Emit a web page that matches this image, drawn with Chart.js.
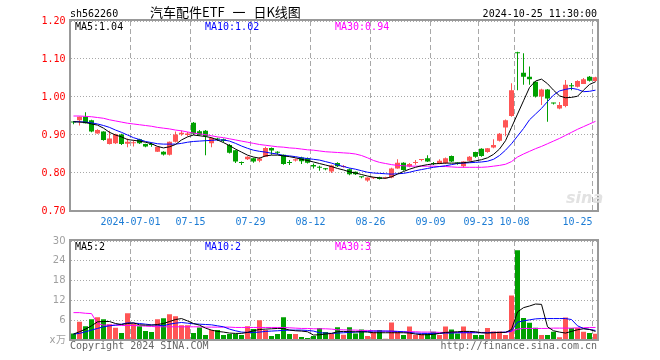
<!DOCTYPE html>
<html lang="zh-CN">
<head>
<meta charset="UTF-8">
<title>汽车配件ETF 一 日K线图</title>
<script src="https://cdn.jsdelivr.net/npm/chart.js@4"></script>
<style>
  * { margin: 0; padding: 0; box-sizing: border-box; }
  body {
    width: 660px; height: 360px; position: relative; overflow: hidden; background: #fff;
    font-family: 'DejaVu Sans Mono', monospace; font-size: 10px; line-height: 12px; color: #000;
  }
  canvas { position: absolute; left: 0; }
  #price { top: 0; }
  #volume { top: 230px; }
  .txt { position: absolute; white-space: pre; z-index: 2; }
  .title { font-family: 'Noto Sans CJK SC', sans-serif; font-size: 13px; line-height: 13px; word-spacing: 5px; }
  .foot { color: #666; }
  .logo { font-family: 'DejaVu Sans', sans-serif; font-size: 16px; font-weight: bold; font-style: italic; color: #e2e2e2; line-height: 16px; }
</style>
</head>
<body>
<div class="txt" style="left:70px; top:7.5px;">sh562260</div>
<div class="txt title" style="left:150px; top:5px;">汽车配件ETF 一 日K线图</div>
<div class="txt" style="right:63px; top:7.5px;">2024-10-25 11:30:00</div>

<div class="txt" style="left:75px; top:20.5px;">MA5:1.04</div>
<div class="txt" style="left:205px; top:20.5px; color:#0000ff;">MA10:1.02</div>
<div class="txt" style="left:335px; top:20.5px; color:#ff00ff;">MA30:0.94</div>

<div class="txt" style="left:75px; top:240.5px;">MA5:2</div>
<div class="txt" style="left:205px; top:240.5px; color:#0000ff;">MA10:2</div>
<div class="txt" style="left:335px; top:240.5px; color:#ff00ff;">MA30:3</div>

<div class="txt logo" style="left:566px; top:190px;">sina</div>

<div class="txt foot" style="left:70px; top:340px;">Copyright 2024 SINA.COM</div>
<div class="txt foot" style="right:63px; top:340px;">http://finance.sina.com.cn</div>

<canvas id="price" width="660" height="230"></canvas>
<canvas id="volume" width="660" height="130"></canvas>

<script>
// trading days shown in the chart
const dates = [
  '2024-06-17','2024-06-18','2024-06-19','2024-06-20','2024-06-21','2024-06-24','2024-06-25','2024-06-26','2024-06-27','2024-06-28',
  '2024-07-01','2024-07-02','2024-07-03','2024-07-04','2024-07-05','2024-07-08','2024-07-09','2024-07-10','2024-07-11','2024-07-12',
  '2024-07-15','2024-07-16','2024-07-17','2024-07-18','2024-07-19','2024-07-22','2024-07-23','2024-07-24','2024-07-25','2024-07-26',
  '2024-07-29','2024-07-30','2024-07-31','2024-08-01','2024-08-02','2024-08-05','2024-08-06','2024-08-07','2024-08-08','2024-08-09',
  '2024-08-12','2024-08-13','2024-08-14','2024-08-15','2024-08-16','2024-08-19','2024-08-20','2024-08-21','2024-08-22','2024-08-23',
  '2024-08-26','2024-08-27','2024-08-28','2024-08-29','2024-08-30','2024-09-02','2024-09-03','2024-09-04','2024-09-05','2024-09-06',
  '2024-09-09','2024-09-10','2024-09-11','2024-09-12','2024-09-13','2024-09-18','2024-09-19','2024-09-20','2024-09-23','2024-09-24',
  '2024-09-25','2024-09-26','2024-09-27','2024-09-30','2024-10-08','2024-10-09','2024-10-10','2024-10-11','2024-10-14','2024-10-15',
  '2024-10-16','2024-10-17','2024-10-18','2024-10-21','2024-10-22','2024-10-23','2024-10-24','2024-10-25'
];

// x axis labels
const tickDates = ['2024-07-01','2024-07-15','2024-07-29','2024-08-12','2024-08-26','2024-09-09','2024-09-23','2024-10-08','2024-10-25'];
const tickTexts = ['2024-07-01','07-15','07-29','08-12','08-26','09-09','09-23','10-08','10-25'];

const opens = [
  0.934,0.939,0.948,0.939,0.904,0.909,0.876,0.878,0.901,0.877,
  0.878,0.889,0.876,0.876,0.856,0.856,0.848,0.882,0.902,0.900,
  0.932,0.910,0.911,0.878,0.891,0.889,0.874,0.860,0.828,0.836,
  0.839,0.832,0.843,0.866,0.855,0.848,0.828,0.833,0.841,0.839,
  0.821,0.816,0.812,0.804,0.826,0.816,0.810,0.803,0.790,0.780,
  0.786,0.789,0.786,0.788,0.812,0.827,0.817,0.826,0.834,0.839,
  0.826,0.824,0.826,0.845,0.826,0.818,0.832,0.855,0.864,0.855,
  0.867,0.885,0.920,0.950,1.118,1.064,1.053,1.040,1.001,1.020,
  0.984,0.970,0.976,1.030,1.027,1.034,1.053,1.042
];
const highs = [
  0.937,0.949,0.960,0.940,0.915,0.910,0.911,0.903,0.903,0.891,
  0.886,0.890,0.877,0.880,0.870,0.857,0.883,0.909,0.912,0.908,
  0.934,0.913,0.913,0.894,0.893,0.891,0.876,0.861,0.830,0.844,
  0.840,0.842,0.869,0.867,0.857,0.849,0.834,0.838,0.843,0.841,
  0.825,0.819,0.813,0.822,0.828,0.821,0.812,0.804,0.791,0.789,
  0.789,0.790,0.790,0.814,0.836,0.828,0.826,0.834,0.837,0.847,
  0.829,0.836,0.841,0.846,0.828,0.831,0.845,0.856,0.865,0.866,
  0.889,0.905,0.941,1.036,1.119,1.115,1.080,1.042,1.022,1.021,
  0.985,0.987,1.045,1.037,1.044,1.050,1.055,1.053
];
const lows = [
  0.928,0.925,0.930,0.907,0.903,0.885,0.875,0.876,0.874,0.868,
  0.870,0.876,0.868,0.869,0.855,0.846,0.846,0.880,0.898,0.897,
  0.900,0.898,0.847,0.868,0.884,0.880,0.851,0.826,0.821,0.834,
  0.827,0.828,0.842,0.848,0.849,0.822,0.821,0.830,0.824,0.825,
  0.812,0.806,0.807,0.800,0.816,0.814,0.794,0.795,0.786,0.777,
  0.784,0.783,0.785,0.786,0.811,0.806,0.815,0.822,0.831,0.829,
  0.821,0.823,0.824,0.829,0.822,0.814,0.830,0.840,0.843,0.853,
  0.865,0.883,0.897,0.948,1.018,1.032,1.032,0.999,0.979,0.935,
  0.980,0.968,0.973,1.018,1.025,1.034,1.041,1.040
];
const closes = [
  0.933,0.948,0.931,0.909,0.913,0.887,0.891,0.902,0.876,0.882,
  0.881,0.878,0.870,0.874,0.869,0.849,0.882,0.901,0.906,0.904,
  0.903,0.900,0.897,0.892,0.888,0.884,0.853,0.830,0.826,0.843,
  0.830,0.838,0.866,0.859,0.853,0.824,0.826,0.836,0.831,0.827,
  0.817,0.814,0.810,0.820,0.818,0.818,0.797,0.797,0.789,0.788,
  0.788,0.784,0.788,0.812,0.827,0.808,0.824,0.828,0.836,0.830,
  0.824,0.832,0.839,0.830,0.825,0.830,0.843,0.843,0.845,0.865,
  0.874,0.903,0.939,1.018,1.115,1.053,1.047,1.001,1.020,0.996,
  0.983,0.979,1.032,1.028,1.042,1.047,1.043,1.052
];

// moving averages as drawn on the price panel
const ma5 = [
  0.935,0.934,0.933,0.929,0.926,0.918,0.907,0.900,0.895,0.888,
  0.886,0.884,0.881,0.877,0.870,0.866,0.869,0.875,0.887,0.895,
  0.900,0.898,0.896,0.893,0.887,0.880,0.872,0.863,0.855,0.847,
  0.842,0.839,0.845,0.847,0.847,0.845,0.843,0.840,0.836,0.833,
  0.829,0.825,0.821,0.817,0.812,0.808,0.803,0.800,0.796,0.792,
  0.789,0.787,0.786,0.790,0.797,0.804,0.810,0.815,0.819,0.822,
  0.824,0.825,0.826,0.826,0.826,0.827,0.829,0.832,0.835,0.840,
  0.849,0.863,0.885,0.920,0.955,0.990,1.025,1.042,1.047,1.035,
  1.018,1.003,0.998,0.999,1.002,1.018,1.033,1.040
];
const ma10 = [
  0.935,0.935,0.934,0.932,0.929,0.925,0.920,0.913,0.907,0.900,
  0.893,0.888,0.883,0.880,0.877,0.876,0.876,0.876,0.878,0.881,
  0.883,0.884,0.885,0.886,0.887,0.887,0.884,0.878,0.871,0.865,
  0.860,0.857,0.855,0.852,0.850,0.846,0.845,0.843,0.840,0.838,
  0.836,0.834,0.830,0.826,0.821,0.817,0.813,0.810,0.806,0.802,
  0.800,0.799,0.798,0.797,0.798,0.799,0.802,0.806,0.809,0.812,
  0.815,0.817,0.819,0.822,0.825,0.826,0.827,0.828,0.829,0.831,
  0.836,0.846,0.860,0.877,0.897,0.917,0.940,0.955,0.970,0.988,
  1.005,1.016,1.020,1.023,1.020,1.014,1.015,1.018
];
const ma30 = [
  0.950,0.950,0.949,0.948,0.946,0.944,0.940,0.937,0.934,0.931,
  0.929,0.927,0.925,0.923,0.920,0.918,0.916,0.913,0.911,0.908,
  0.905,0.903,0.901,0.898,0.895,0.893,0.890,0.887,0.884,0.881,
  0.878,0.875,0.873,0.871,0.869,0.868,0.866,0.865,0.863,0.861,
  0.860,0.858,0.856,0.855,0.854,0.853,0.852,0.850,0.846,0.840,
  0.833,0.828,0.825,0.822,0.820,0.819,0.818,0.818,0.818,0.818,
  0.818,0.817,0.817,0.816,0.815,0.815,0.815,0.815,0.815,0.816,
  0.818,0.820,0.823,0.830,0.842,0.850,0.857,0.864,0.870,0.877,
  0.884,0.891,0.899,0.907,0.915,0.922,0.929,0.936
];

// volume, in 10k lots
const volumes = [
  2.0,5.5,4.2,6.3,6.9,6.3,4.8,3.7,2.1,8.1,
  5.0,4.2,2.7,2.4,6.3,6.6,7.8,7.2,4.5,4.5,
  2.1,3.8,1.5,3.0,3.0,1.5,1.8,1.8,1.5,4.2,
  3.3,6.0,3.0,1.2,1.8,6.9,1.8,1.8,0.9,0.6,
  1.2,3.6,2.4,1.8,3.9,1.6,3.9,2.0,3.2,1.2,
  2.5,3.0,0.4,5.3,2.4,1.5,4.1,1.5,1.8,2.0,
  2.5,1.5,4.1,3.2,2.0,4.1,2.5,1.5,1.5,3.6,
  2.6,2.6,1.5,13.5,27.2,6.7,5.2,3.7,1.5,1.5,
  2.5,0.8,6.8,3.6,3.6,2.5,2.1,1.9
];
const vma5 = [
  1.8,2.5,3.3,4.3,5.5,5.6,5.6,5.0,4.7,5.0,
  5.2,4.6,4.5,4.5,4.7,5.0,5.6,6.2,6.5,5.8,
  5.0,4.5,3.6,3.0,2.6,2.4,2.1,2.0,2.0,2.3,
  2.8,3.2,3.3,3.4,3.5,3.5,3.0,2.8,2.7,2.5,
  1.5,1.6,1.8,2.0,2.5,2.6,2.5,2.5,2.5,2.4,
  2.2,2.2,2.2,2.2,2.2,2.2,2.1,1.8,1.6,1.6,
  1.7,2.0,2.3,2.4,2.5,2.6,2.6,2.5,2.2,2.1,
  2.2,2.3,2.3,3.2,8.5,9.8,10.3,10.9,10.8,4.0,
  2.8,2.4,2.1,2.6,3.1,3.4,3.2,2.6
];
const vma10 = [
  1.8,2.0,2.5,3.0,3.5,4.0,4.3,4.5,4.8,5.2,
  5.1,5.0,4.8,4.6,4.5,4.3,4.8,5.1,5.3,5.1,
  4.9,4.8,4.7,4.6,4.3,4.0,3.3,2.8,2.4,2.3,
  2.3,2.4,2.6,2.7,2.8,2.9,3.0,3.0,3.0,2.9,
  2.7,2.2,2.1,2.0,2.1,2.2,2.3,2.4,2.5,2.6,
  2.7,2.7,2.7,2.7,2.6,2.5,2.3,2.1,2.0,2.0,
  2.0,2.0,2.1,2.1,2.2,2.2,2.2,2.2,2.2,2.2,
  2.3,2.3,2.4,2.7,5.4,5.8,6.1,6.4,6.5,6.5,
  6.5,6.5,6.5,6.2,4.3,3.5,3.2,2.9
];
const vma30 = [
  8.3,8.3,8.1,8.0,5.0,4.5,4.5,4.5,4.4,4.4,
  4.4,4.3,4.2,4.1,4.0,4.0,4.0,4.0,4.0,4.0,
  4.0,4.0,3.9,3.9,3.9,3.9,3.9,3.8,3.8,3.8,
  3.8,3.8,3.8,3.8,3.8,3.8,3.7,3.6,3.5,3.5,
  3.4,3.4,3.4,3.3,3.1,3.1,3.0,3.0,2.9,2.9,
  2.8,2.7,2.7,2.6,2.6,2.5,2.5,2.5,2.4,2.4,
  2.4,2.3,2.3,2.3,2.3,2.3,2.3,2.3,2.3,2.3,
  2.3,2.3,2.3,2.6,3.3,3.5,3.5,3.5,3.5,3.5,
  3.6,3.6,3.6,3.6,3.7,3.7,3.8,3.8
];

const UP = '#ff5555';
const DOWN = '#00a000';
const GRID = '#a8a8a8';
const candleColors = closes.map((c, i) => (c >= opens[i] ? UP : DOWN));

Chart.defaults.font.family = "'DejaVu Sans Mono', monospace";
Chart.defaults.font.size = 10;
Chart.defaults.animation = false;
Chart.defaults.events = [];

// grey box around each panel
const framePlugin = {
  id: 'frame',
  afterDraw(chart) {
    const { ctx, chartArea: a } = chart;
    ctx.save();
    ctx.strokeStyle = '#999';
    ctx.lineWidth = 2;
    ctx.strokeRect(a.left - 0.5, a.top - 1, a.right - a.left, a.bottom - a.top + 1);
    ctx.restore();
  }
};

const isTickIndex = i => tickDates.includes(dates[i]);

function xAxis(showLabels, height) {
  return {
    type: 'category',
    offset: true,
    grid: {
      offset: true,
      drawTicks: false,
      lineWidth: 1,
      color: ctx => (isTickIndex(ctx.index) ? GRID : 'rgba(0,0,0,0)')
    },
    border: { display: false, dash: [5, 3] },
    ticks: {
      display: showLabels,
      autoSkip: false,
      maxRotation: 0,
      minRotation: 0,
      labelOffset: -3,
      padding: 5,
      color: '#1c7cd5',
      callback: (value, index) => {
        const k = tickDates.indexOf(dates[index]);
        if (k < 0) return '';
        // last label sits left of its grid line, as in the original
        return k === tickDates.length - 1 ? tickTexts[k] + '     ' : tickTexts[k];
      }
    },
    afterFit: scale => { scale.height = height; }
  };
}

const lineSet = (label, data, color) => ({
  type: 'line', label, data, borderColor: color, borderWidth: 1,
  pointRadius: 0, pointHoverRadius: 0, tension: 0, order: 0
});

new Chart(document.getElementById('price'), {
  type: 'bar',
  data: {
    labels: dates,
    datasets: [
      lineSet('MA5', ma5, '#000000'),
      lineSet('MA10', ma10, '#0000ff'),
      lineSet('MA30', ma30, '#ff00ff'),
      {
        label: 'body',
        data: opens.map((o, i) => [o, closes[i]]),
        backgroundColor: candleColors,
        barThickness: 5, minBarLength: 1, grouped: false, inflateAmount: 0, order: 1
      },
      {
        label: 'wick',
        data: lows.map((l, i) => [l, highs[i]]),
        backgroundColor: candleColors,
        barThickness: 1, grouped: false, inflateAmount: 0, order: 2
      }
    ]
  },
  options: {
    responsive: false,
    layout: { padding: { top: 21, right: 61.5, bottom: 0, left: 0 } },
    plugins: { legend: { display: false }, tooltip: { enabled: false } },
    scales: {
      x: xAxis(true, 19),
      y: {
        min: 0.7, max: 1.2,
        grid: { drawTicks: false, color: GRID },
        border: { display: false, dash: [1, 2] },
        ticks: { stepSize: 0.1, padding: 5, color: '#ff0000', callback: v => v.toFixed(2) },
        afterFit: scale => { scale.width = 70.5; }
      }
    }
  },
  plugins: [framePlugin]
});

new Chart(document.getElementById('volume'), {
  type: 'bar',
  data: {
    labels: dates,
    datasets: [
      lineSet('MA5', vma5, '#000000'),
      lineSet('MA10', vma10, '#0000ff'),
      lineSet('MA30', vma30, '#ff00ff'),
      {
        label: 'volume',
        data: volumes,
        backgroundColor: candleColors,
        barThickness: 5, inflateAmount: 0, order: 1
      }
    ]
  },
  options: {
    responsive: false,
    layout: { padding: { top: 10, right: 61.5, bottom: 0, left: 0 } },
    plugins: { legend: { display: false }, tooltip: { enabled: false } },
    scales: {
      x: xAxis(false, 20),
      y: {
        min: 0, max: 30,
        grid: { drawTicks: false, color: GRID },
        border: { display: false, dash: [1, 2] },
        ticks: {
          stepSize: 6, padding: 5, color: '#a0a0a0',
          font: { family: "'DejaVu Sans', sans-serif", size: 10 },
          callback: v => (v === 0 ? 'x万' : v)
        },
        afterFit: scale => { scale.width = 70.5; }
      }
    }
  },
  plugins: [framePlugin]
});
</script>
</body>
</html>
